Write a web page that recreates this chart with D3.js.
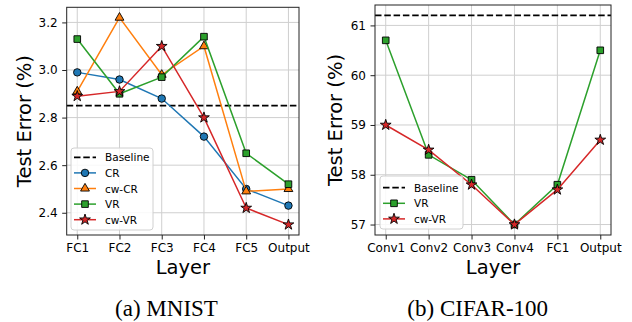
<!DOCTYPE html>
<html>
<head>
<meta charset="utf-8">
<script src="https://cdn.jsdelivr.net/npm/d3@7"></script>
<style>
  body { margin: 0; background: #fff; }
  svg text { font-family: "DejaVu Sans", sans-serif; fill: #000; }
</style>
</head>
<body>
<svg id="fig" width="632" height="322"></svg>
<script>
// ---- data ----
var mnistLayers = ["FC1", "FC2", "FC3", "FC4", "FC5", "Output"];
var mnistBaseline = 2.85;
var mnistCR   = [2.99, 2.96, 2.88, 2.72, 2.50, 2.43];
var mnistCwCR = [2.91, 3.22, 2.98, 3.10, 2.49, 2.50];
var mnistVR   = [3.13, 2.90, 2.97, 3.14, 2.65, 2.52];
var mnistCwVR = [2.89, 2.91, 3.10, 2.80, 2.42, 2.35];
var mnistTicks = [2.4, 2.6, 2.8, 3.0, 3.2];

var cifarLayers = ["Conv1", "Conv2", "Conv3", "Conv4", "FC1", "Output"];
var cifarBaseline = 61.2;
var cifarVR   = [60.7, 58.4, 57.9, 57.0, 57.8, 60.5];
var cifarCwVR = [59.0, 58.5, 57.8, 57.0, 57.7, 58.7];
var cifarTicks = [57, 58, 59, 60, 61];

var svg = d3.select("#fig");

// marker shapes like matplotlib o ^ s *
var markers = {
    circle: d3.symbol().type(d3.symbolCircle).size(44),
    triangle: d3.symbol().type(d3.symbolTriangle).size(34),
    square: d3.symbol().type(d3.symbolSquare).size(44),
    star: d3.symbol().type(d3.symbolStar).size(36)
};

function panel(opt) {
    var x = d3.scalePoint().domain(opt.layers).range([opt.left, opt.right]).padding(0.25);
    var allVals = [opt.baseline];
    opt.series.forEach(function (s) { allVals = allVals.concat(s.values); });
    var lo = d3.min(allVals), hi = d3.max(allVals), m = (hi - lo) * 0.05;
    var y = d3.scaleLinear().domain([lo - m, hi + m]).range([opt.bottom, opt.top]);

    var g = svg.append("g");

    // grid
    g.selectAll(".gx").data(opt.layers).enter().append("line")
        .attr("x1", function (d) { return x(d); }).attr("x2", function (d) { return x(d); })
        .attr("y1", opt.top).attr("y2", opt.bottom)
        .attr("stroke", "#cfcfcf").attr("stroke-width", 1);
    g.selectAll(".gy").data(opt.ticks).enter().append("line")
        .attr("x1", opt.left).attr("x2", opt.right)
        .attr("y1", function (d) { return y(d); }).attr("y2", function (d) { return y(d); })
        .attr("stroke", "#cfcfcf").attr("stroke-width", 1);

    // baseline
    g.append("line")
        .attr("x1", opt.left).attr("x2", opt.right)
        .attr("y1", y(opt.baseline)).attr("y2", y(opt.baseline))
        .attr("stroke", "#000").attr("stroke-width", 1.8)
        .attr("stroke-dasharray", "6.5,2.8");

    // series
    opt.series.forEach(function (s) {
        var line = d3.line()
            .x(function (d, i) { return x(opt.layers[i]); })
            .y(function (d) { return y(d); });
        g.append("path").datum(s.values)
            .attr("d", line).attr("fill", "none")
            .attr("stroke", s.color).attr("stroke-width", 1.5);
        g.selectAll(null).data(s.values).enter().append("path")
            .attr("d", markers[s.marker])
            .attr("transform", function (d, i) { return "translate(" + x(opt.layers[i]) + "," + y(d) + ")"; })
            .attr("fill", s.color).attr("stroke", "#000").attr("stroke-width", 0.9);
    });

    // frame
    g.append("rect")
        .attr("x", opt.left).attr("y", opt.top)
        .attr("width", opt.right - opt.left).attr("height", opt.bottom - opt.top)
        .attr("fill", "none").attr("stroke", "#222").attr("stroke-width", 1);

    // axes ticks
    var xAxis = d3.axisBottom(x).tickSize(4.5).tickPadding(4);
    var gx = g.append("g").attr("transform", "translate(0," + opt.bottom + ")").call(xAxis);
    var yAxis = d3.axisLeft(y).tickValues(opt.ticks).tickSize(4.5).tickPadding(4.5)
        .tickFormat(opt.fmt);
    var gy = g.append("g").attr("transform", "translate(" + opt.left + ",0)").call(yAxis);
    [gx, gy].forEach(function (a) {
        a.select(".domain").remove();
        a.selectAll(".tick line").attr("stroke", "#222");
        a.selectAll(".tick text").attr("font-size", 12).attr("font-family", "DejaVu Sans").attr("fill", "#000");
    });

    // labels
    g.append("text").attr("x", (opt.left + opt.right) / 2).attr("y", 274)
        .attr("text-anchor", "middle").attr("font-size", 19.5).text("Layer");
    g.append("text")
        .attr("transform", "translate(" + opt.ylabelX + "," + (opt.top + opt.bottom) / 2 + ") rotate(-90)")
        .attr("text-anchor", "middle").attr("dominant-baseline", "central")
        .attr("font-size", 19.5).text("Test Error (%)");
    g.append("text").attr("x", opt.captionX).attr("y", 316)
        .attr("text-anchor", "middle")
        .style("font-family", "'Liberation Serif', 'Times New Roman', serif")
        .attr("font-size", 23).text(opt.caption);

    // legend
    var L = opt.legend;
    var entries = [{ name: "Baseline", dash: true }].concat(opt.series);
    g.append("rect").attr("x", L.x).attr("y", L.y).attr("width", L.w).attr("height", L.h)
        .attr("rx", 3).attr("fill", "#fff").attr("fill-opacity", 0.85)
        .attr("stroke", "#d0d0d0").attr("stroke-width", 1);
    entries.forEach(function (e, i) {
        var cy = L.y0 + i * L.step;
        g.append("line").attr("x1", L.x + 3).attr("x2", L.x + 25).attr("y1", cy).attr("y2", cy)
            .attr("stroke", e.dash ? "#000" : e.color)
            .attr("stroke-width", e.dash ? 1.8 : 1.5)
            .attr("stroke-dasharray", e.dash ? "6.5,2.8" : null);
        if (!e.dash) {
            g.append("path").attr("d", markers[e.marker])
                .attr("transform", "translate(" + (L.x + 14) + "," + cy + ")")
                .attr("fill", e.color).attr("stroke", "#000").attr("stroke-width", 0.9);
        }
        g.append("text").attr("x", L.x + 34).attr("y", cy)
            .attr("dominant-baseline", "central").attr("font-size", 10.5).text(e.name);
    });
}

panel({
    layers: mnistLayers, baseline: mnistBaseline, ticks: mnistTicks,
    fmt: d3.format(".1f"),
    left: 66.7, right: 299, top: 7.3, bottom: 235,
    ylabelX: 24, captionX: 166.5, caption: "(a) MNIST",
    series: [
        { name: "CR", values: mnistCR, color: "#1f77b4", marker: "circle" },
        { name: "cw-CR", values: mnistCwCR, color: "#ff7f0e", marker: "triangle" },
        { name: "VR", values: mnistVR, color: "#2ca02c", marker: "square" },
        { name: "cw-VR", values: mnistCwVR, color: "#d62728", marker: "star" }
    ],
    legend: { x: 71, y: 148, w: 82, h: 82, y0: 157.3, step: 15.6 }
});

panel({
    layers: cifarLayers, baseline: cifarBaseline, ticks: cifarTicks,
    fmt: d3.format("d"),
    left: 375, right: 611, top: 5, bottom: 235,
    ylabelX: 335, captionX: 477.7, caption: "(b) CIFAR-100",
    series: [
        { name: "VR", values: cifarVR, color: "#2ca02c", marker: "square" },
        { name: "cw-VR", values: cifarCwVR, color: "#d62728", marker: "star" }
    ],
    legend: { x: 380, y: 176, w: 83, h: 53, y0: 187.7, step: 15.6 }
});
</script>
</body>
</html>
